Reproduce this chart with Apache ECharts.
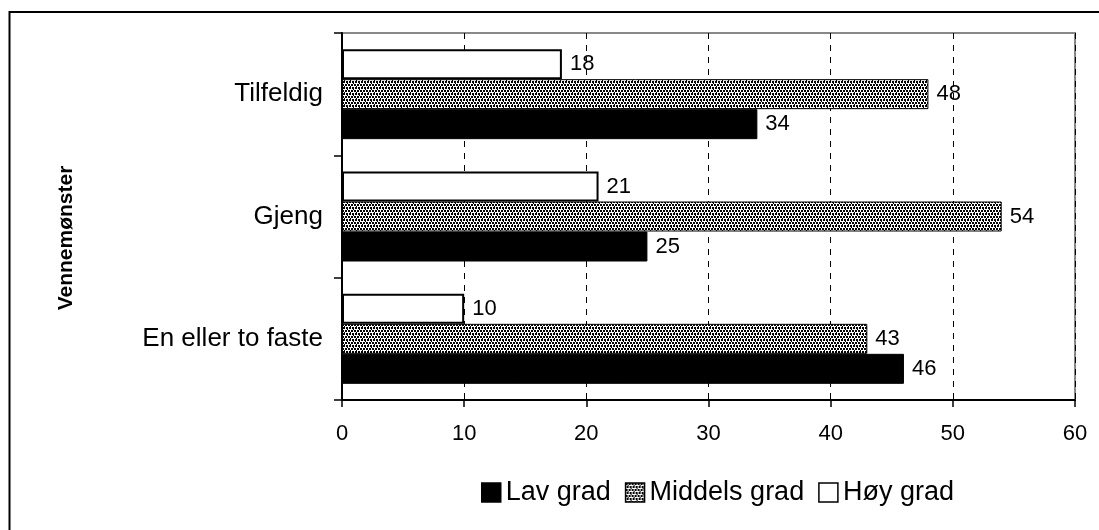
<!DOCTYPE html>
<html>
<head>
<meta charset="utf-8">
<script src="https://cdn.jsdelivr.net/npm/echarts@6/dist/echarts.min.js"></script>
<style>html,body{margin:0;padding:0;background:#fff;}#c{width:1099px;height:530px;}</style>
</head>
<body>
<div id="c"></div>
<script>
const categories = ['En eller to faste', 'Gjeng', 'Tilfeldig'];
const seriesNames = ['Lav grad', 'Middels grad', 'Høy grad'];
const lavGrad = [46, 25, 34];
const middelsGrad = [43, 54, 48];
const hoyGrad = [10, 21, 18];
const xTicks = { min: 0, max: 60, interval: 10 };
const yAxisTitle = 'Vennemønster';

function makePattern() {
  const rows = [
    '110110',
    '110110',
    '000000',
    '011011',
    '011011',
    '000000'
  ];
  const c = document.createElement('canvas');
  c.width = 6; c.height = 6;
  const ctx = c.getContext('2d');
  ctx.fillStyle = '#fff';
  ctx.fillRect(0, 0, 6, 6);
  ctx.fillStyle = '#000';
  rows.forEach((r, y) => { for (let x = 0; x < 6; x++) if (r[x] === '1') ctx.fillRect(x, y, 1, 1); });
  ctx.fillRect(2, 2, 1, 1);
  ctx.fillRect(5, 5, 1, 1);
  return c;
}
const pattern = { image: makePattern(), repeat: 'repeat' };

const FONT = 'Liberation Sans, Arial, sans-serif';
const chart = echarts.init(document.getElementById('c'), null, { renderer: 'canvas' });

const labelCfg = { show: true, position: 'right', distance: 8, color: '#000', fontFamily: FONT, fontSize: 22 };
const common = { type: 'bar', barWidth: 30, barGap: '0%', label: labelCfg };

chart.setOption({
  animation: false,
  backgroundColor: '#fff',
  graphic: [
    { type: 'rect', shape: { x: 9.5, y: 12, width: 2000, height: 2000 },
      style: { fill: null, stroke: '#000', lineWidth: 2 }, silent: true },
    { type: 'text', x: 66, y: 238, rotation: Math.PI / 2,
      style: { text: yAxisTitle, fontFamily: FONT, fontSize: 21, fontWeight: 'bold', fill: '#000', align: 'center', verticalAlign: 'middle' },
      silent: true }
  ],
  grid: { left: 342, right: 24, top: 33, bottom: 130, show: true, borderColor: '#888', borderWidth: 2, backgroundColor: 'transparent' },
  legend: {
    bottom: 19, left: 476, icon: 'rect', itemWidth: 19, itemHeight: 19, itemGap: 14,
    textStyle: { fontFamily: FONT, fontSize: 27, color: '#000', padding: [0, 0, 0, 0] },
    data: seriesNames.map(n => ({ name: n, itemStyle: { borderColor: '#000', borderWidth: 1.5 } }))
  },
  xAxis: {
    type: 'value', min: xTicks.min, max: xTicks.max, interval: xTicks.interval,
    axisLine: { show: true, lineStyle: { color: '#000', width: 2 } },
    axisTick: { show: true, length: 7, lineStyle: { color: '#000', width: 1.5 } },
    axisLabel: { color: '#000', fontFamily: FONT, fontSize: 22, margin: 23 },
    splitLine: { show: true, lineStyle: { color: '#000', type: [6, 6], width: 1 } }
  },
  yAxis: {
    type: 'category', data: categories,
    axisLine: { show: true, lineStyle: { color: '#000', width: 2 } },
    axisTick: { show: true, length: 8, lineStyle: { color: '#000', width: 1.5 } },
    axisLabel: { color: '#000', fontFamily: FONT, fontSize: 26, margin: 19 },
    splitLine: { show: false }
  },
  series: [
    Object.assign({}, common, { name: seriesNames[2], data: hoyGrad, itemStyle: { color: '#fff', borderColor: '#000', borderWidth: 2 } }),
    Object.assign({}, common, { name: seriesNames[1], data: middelsGrad, itemStyle: { color: pattern, borderColor: '#000', borderWidth: 1 } }),
    Object.assign({}, common, { name: seriesNames[0], data: lavGrad, itemStyle: { color: '#000', borderColor: '#000', borderWidth: 1 } })
  ]
});
</script>
</body>
</html>
